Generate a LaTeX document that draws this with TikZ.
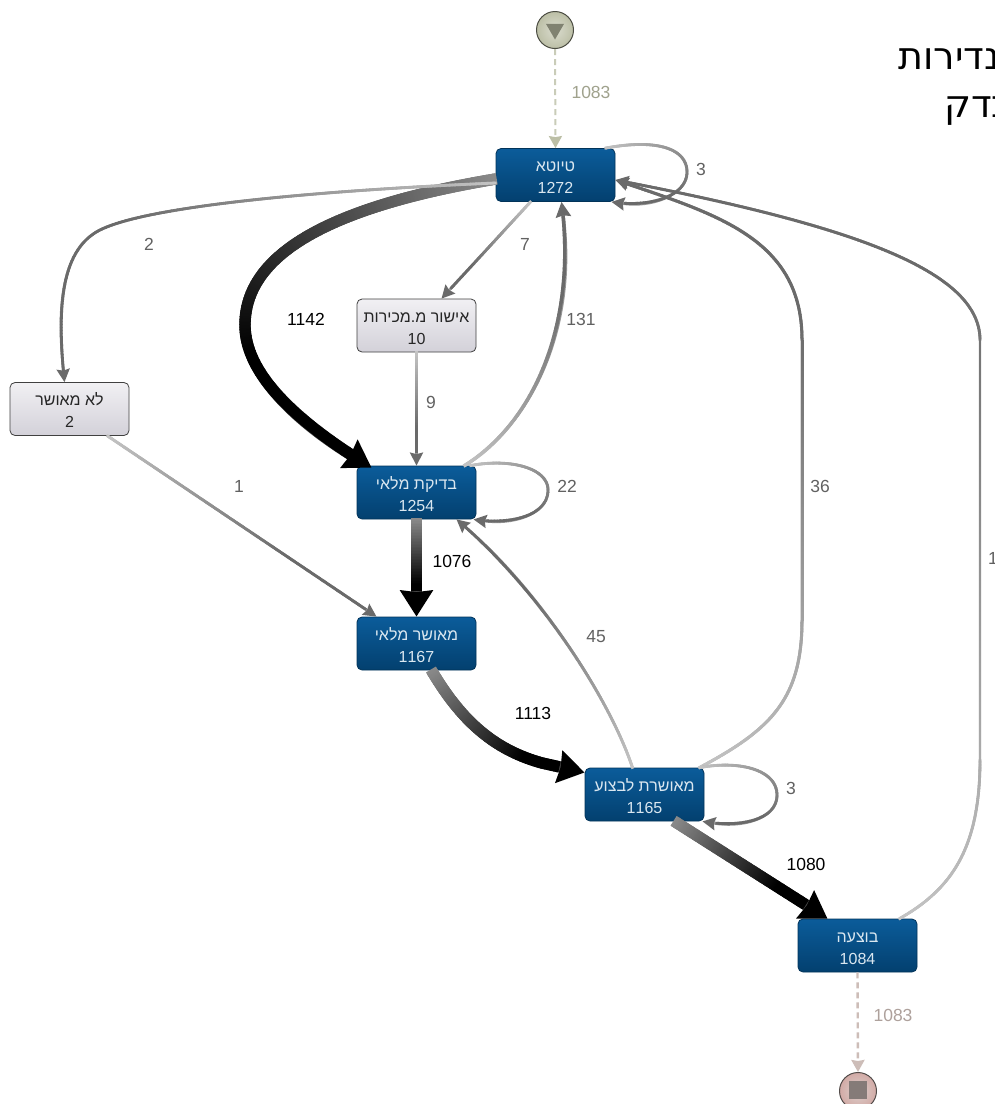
\documentclass[tikz,border=0pt]{standalone}
\usepackage{fontspec}
\setmainfont{Liberation Sans}
\newfontfamily\hebfont[Script=Hebrew]{Liberation Sans}
\newfontfamily\bigheb[Script=Hebrew]{DejaVu Sans}
\TeXXeTstate=1
\usetikzlibrary{arrows.meta,decorations.markings,shapes.geometric}
\definecolor{bluetop}{HTML}{0B5C9A}
\definecolor{bluebot}{HTML}{03406F}
\definecolor{greytop}{HTML}{F1F0F3}
\definecolor{greybot}{HTML}{D3D1D9}
\definecolor{lightedge}{HTML}{C4C4C4}
\definecolor{darkedge}{HTML}{6A6A6A}
\definecolor{midgrey}{HTML}{8A8A8A}
\definecolor{startedge}{HTML}{BCBFA6}
\definecolor{stopedge}{HTML}{CDBDB8}
\newcommand{\boxtext}[2]{\rule{0pt}{15.5pt}\beginR #1\endR\\#2}
\tikzset{
  x=1pt,y=-1pt,
  flow/.style n args={5}{
    draw=#3!50!#2, line width=#1,
    -{Stealth[length=#5,width=#4,inset=1.5pt,color=#3]},
    postaction={decorate},
    decoration={markings,
      mark=between positions 0 and -#5 step 1.5pt with {
        \pgfmathsetmacro\flowp{min(100,150*(\pgfkeysvalueof{/pgf/decoration/mark info/distance from start}/\pgfdecoratedpathlength))}
        \fill[#3!\flowp!#2] (-1.1pt,-#1/2-0.2pt) rectangle (1.1pt,#1/2+0.2pt);
      }}},
  thinflow/.style={flow={2.4pt}{lightedge}{darkedge}{13pt}{13pt}},
  bigflow/.style={flow={11pt}{midgrey}{black}{32pt}{26pt}},
  boxbase/.style={rectangle,rounded corners=5pt,minimum width=119pt,minimum height=53pt,
    inner sep=0pt,align=center,font=\hebfont\fontsize{16}{22}\selectfont},
  activity/.style={boxbase,draw=bluebot!80!black,line width=0.8pt,top color=bluetop,bottom color=bluebot,text=white!85!bluetop},
  rareactivity/.style={boxbase,draw=black!75,line width=0.8pt,top color=greytop,bottom color=greybot,text=black!85},
  lab/.style={font=\fontsize{17.5}{20}\selectfont,text=black!62,inner sep=0pt},
  blab/.style={font=\fontsize{17.5}{20}\selectfont,text=black,inner sep=0pt},
  startlink/.style={draw=startedge!80!white,line width=2pt,dash pattern=on 6pt off 4pt,-{Stealth[length=12pt,width=13pt,inset=1pt,color=startedge]}},
  stoplink/.style={draw=stopedge,line width=2.4pt,dash pattern=on 6pt off 4pt,-{Stealth[length=12pt,width=13pt,inset=1pt,color=stopedge]}},
}
\begin{document}
\begin{tikzpicture}
\path[use as bounding box] (0,0) rectangle (995,1104);
\clip (0,0) rectangle (995,1104);
\fill[white] (0,0) rectangle (995,1104);

% page text cut by the right edge
\node[anchor=east,inner sep=0pt,font=\bigheb\fontsize{38}{42}\selectfont] (toptext1) at (1000,59) {\beginR נדירות\endR};
\node[anchor=east,inner sep=0pt,font=\bigheb\fontsize{38}{42}\selectfont] (toptext2) at (1014,111) {\beginR בדק\endR};

% nodes
\node[activity] (t) at (555.5,175) {\boxtext{טיוטא}{1272}};
\node[rareactivity] (a) at (416.5,325.5) {\boxtext{אישור מ.מכירות}{10}};
\node[rareactivity] (n) at (69.5,409) {\boxtext{לא מאושר}{2}};
\node[activity] (b) at (416.5,492.5) {\boxtext{בדיקת מלאי}{1254}};
\node[activity] (m) at (416.5,643.5) {\boxtext{מאושר מלאי}{1167}};
\node[activity] (l) at (644.5,794.5) {\boxtext{מאושרת לבצוע}{1165}};
\node[activity] (e) at (857.5,945.5) {\boxtext{בוצעה}{1084}};

\node[circle,minimum size=37pt,inner sep=0pt,draw=black!60!startedge,line width=1pt,inner color=startedge!55!white,outer color=startedge] (s) at (555,30) {};
\node[regular polygon,regular polygon sides=3,shape border rotate=180,minimum size=21pt,inner sep=0pt,fill=black!32!startedge] (sg) at (555,29) {};
\node[circle,minimum size=37pt,inner sep=0pt,draw=black!60!stopedge,line width=1pt,inner color=stopedge!70!white,outer color=stopedge!90!red] (z) at (858,1091) {};
\node[rectangle,minimum size=18pt,inner sep=0pt,fill=black!35!stopedge] (zg) at (858,1090) {};

% connectors
\draw[startlink] (s.south) -- (t.north);
\draw[stoplink] (e.south) -- (z.north);

\draw[thinflow] ([xshift=50pt]t.north) .. controls (660,138) and (687,150) .. (687,172)
   .. controls (687,196) and (650,208) .. ([xshift=56pt]t.south);
\draw[bigflow] ([yshift=-4pt]t.west) .. controls (340,205) and (245,250) .. (245,325)
   .. controls (245,380) and (310,430) .. ([xshift=-45pt,yshift=-2pt]b.north);
\draw[thinflow] ([yshift=-8pt]t.west) .. controls (330,190) and (150,205) .. (100,230)
   .. controls (60,250) and (57,310) .. ([xshift=-5pt]n.north);
\draw[thinflow] ([xshift=-25pt]t.south) -- ([xshift=25pt]a.north);
\draw[thinflow] (a.south) -- (b.north);
\draw[flow={3pt}{lightedge}{darkedge}{15pt}{15pt}] ([xshift=48pt]b.north) .. controls (530,425) and (578,330) .. ([xshift=6pt]t.south);
\draw[thinflow] ([xshift=54pt]b.north) .. controls (510,458) and (548,468) .. (548,490)
   .. controls (548,516) and (510,525) .. ([xshift=57pt]b.south);
\draw[bigflow] (b.south) -- (m.north);
\draw[thinflow] ([xshift=38pt]n.south) -- ([xshift=-40pt]m.north);
\draw[bigflow] ([xshift=15pt]m.south) .. controls (462,722) and (495,750) .. (542,763)
   -- ([yshift=22pt]l.west);
\draw[thinflow] ([xshift=-12pt]l.north) .. controls (610,700) and (540,590) .. ([xshift=40pt]b.south);
\draw[flow={2.6pt}{lightedge}{darkedge}{13pt}{13pt}] ([xshift=55pt]l.north) .. controls (770,730) and (802,700) .. (802,620)
   -- (802,340) .. controls (802,240) and (720,215) .. ([yshift=-5pt]t.east);
\draw[thinflow] ([xshift=55pt]l.north) .. controls (740,760) and (777,770) .. (777,795)
   .. controls (777,820) and (740,828) .. ([xshift=58pt]l.south);
\draw[bigflow] ([xshift=30pt]l.south) -- ([xshift=-30pt]e.north);
\draw[flow={2.4pt}{lightedge}{darkedge}{13pt}{13pt}] ([xshift=42pt]e.north) .. controls (950,890) and (980,850) .. (980,760)
   -- (980,340) .. controls (980,270) and (850,225) .. ([yshift=-5pt]t.east);

% labels
\node[lab,text=startedge!85!black] (l1) at (591,92) {1083};
\node[lab] (l2) at (701,169) {3};
\node[lab] (l3) at (149,244) {2};
\node[lab] (l4) at (525,244) {7};
\node[blab] (l5) at (306,319) {1142};
\node[lab] (l6) at (581,319) {131};
\node[lab] (l7) at (431,402) {9};
\node[lab] (l8) at (239,486) {1};
\node[lab] (l9) at (567,486) {22};
\node[lab] (l10) at (820,486) {36};
\node[lab] (l11) at (993,558) {1};
\node[blab] (l12) at (452,561) {1076};
\node[lab] (l13) at (596,637) {45};
\node[blab] (l14) at (533,713) {1113};
\node[lab] (l15) at (791,788) {3};
\node[blab] (l16) at (806,864) {1080};
\node[lab,text=stopedge!85!black] (l17) at (893,1015) {1083};
\end{tikzpicture}
\end{document}
